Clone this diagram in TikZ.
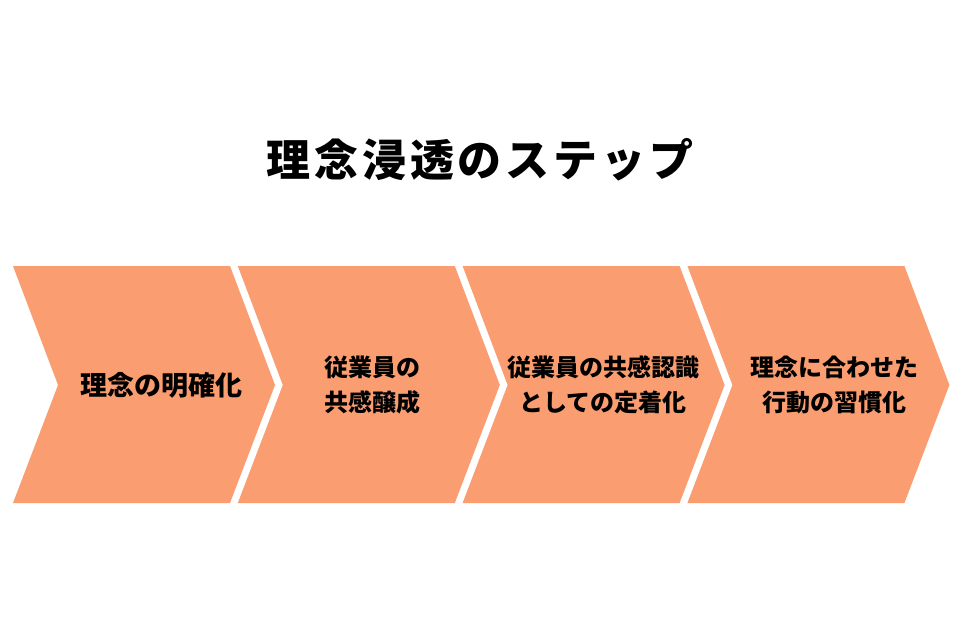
\documentclass[tikz,border=0pt]{standalone}
\usepackage{fontspec}
\newfontfamily\jp{Noto Sans CJK JP}
\newfontfamily\jptitle{Noto Sans CJK JP}[LetterSpace=9]
\definecolor{chev}{RGB}{250,157,112}
\begin{document}
\begin{tikzpicture}[x=1pt,y=-1pt,
  chevshape/.style={fill=chev,draw=none},
  steptext/.style={font=\jp\bfseries\fontsize{24}{35}\selectfont,align=center,text=black,inner sep=0pt}]
\useasboundingbox (0,0) rectangle (960,640);
\fill[white] (0,0) rectangle (960,640);
\node[font=\jptitle\bfseries\fontsize{44}{50}\selectfont,inner sep=0pt] (title) at (480,160) {理念浸透のステップ};
\foreach \i in {0,1,2,3}{
  \pgfmathsetmacro{\xo}{13+224.8*\i}
  \fill[chevshape] (\xo,266) -- (\xo+217,266) -- (\xo+262,385) -- (\xo+217,503) -- (\xo,503) -- (\xo+45,385) -- cycle;
}
\node[steptext,font=\jp\bfseries\fontsize{27}{35}\selectfont] (s1) at (161,385) {理念の明確化};
\node[steptext] (s2) at (372,385) {従業員の\\共感醸成};
\node[steptext] (s3) at (603,385) {従業員の共感認識\\としての定着化};
\node[steptext] (s4) at (834,385) {理念に合わせた\\行動の習慣化};
\end{tikzpicture}
\end{document}
